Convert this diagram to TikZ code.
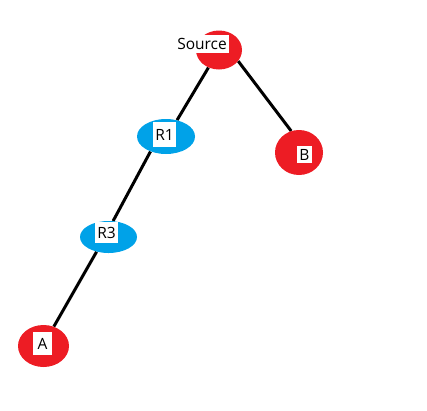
\documentclass[tikz,border=0pt]{standalone}
\usepackage{fontspec}
\setmainfont{Open Sans}
\usetikzlibrary{shapes.geometric}
\pgfdeclarelayer{bg}
\pgfsetlayers{bg,main}
\definecolor{pred}{HTML}{ED1C24}
\definecolor{pblue}{HTML}{00A2E8}
\tikzset{
  rednode/.style={ellipse, fill=pred, draw=none, inner sep=0pt},
  bluenode/.style={ellipse, fill=pblue, draw=none, inner sep=0pt},
  lbl/.style={fill=white, inner sep=0pt, font=\fontsize{15.5}{16}\selectfont, text=black},
  edge/.style={line width=3pt, black}
}
\begin{document}
\begin{tikzpicture}[x=1pt,y=-1pt]
\useasboundingbox (0,0) rectangle (427,410);
\node[rednode, minimum width=46pt, minimum height=39pt] (S) at (219,50) {};
\node[lbl, minimum width=53pt, minimum height=18pt] (SL) at (202,44) {Source};
\node[rednode, minimum width=48pt, minimum height=45pt] (B) at (299,152.5) {};
\node[lbl, minimum width=15pt, minimum height=17pt] (BL) at (304.5,154.5) {B};
\node[bluenode, minimum width=58pt, minimum height=35pt] (R1) at (166,136.5) {};
\node[lbl, minimum width=23pt, minimum height=25pt] (R1L) at (164.5,134.5) {R1};
\node[bluenode, minimum width=57pt, minimum height=32pt] (R3) at (108.5,237) {};
\node[lbl, minimum width=23pt, minimum height=21pt] (R3L) at (106.5,232.5) {R3};
\node[rednode, minimum width=51pt, minimum height=42pt] (A) at (43.5,346) {};
\node[lbl, minimum width=19pt, minimum height=23pt] (AL) at (42.5,343.5) {A};
\begin{pgfonlayer}{bg}
\draw[edge] (S.-30) -- (B.110);
\draw[edge] (S.-121) -- (R1.56);
\draw[edge] (R1.224) -- (R3.74);
\draw[edge] (R3.231) -- (A.62);
\end{pgfonlayer}
\end{tikzpicture}
\end{document}
